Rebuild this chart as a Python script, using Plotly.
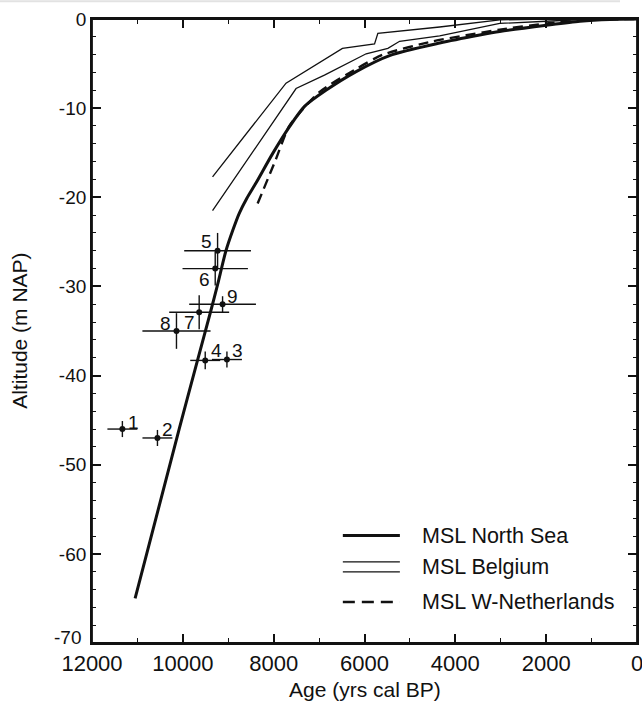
import plotly.graph_objects as go

# ---------------- data ----------------
ns_age = [11051, 10081, 9677, 9382, 9235, 9051, 8900, 8758, 8590, 8390, 8023, 7655, 7320, 6850, 6184, 5448, 4345, 3463, 3022, 1993, 1257, 600, 0]
ns_alt = [-65.0, -46.0, -38.3, -32.7, -29.8, -26.0, -23.7, -21.8, -20.1, -18.4, -15.1, -12.1, -9.8, -8.0, -5.9, -4.1, -2.7, -1.8, -1.4, -0.7, -0.25, -0.05, 0.0]

be_up_age = [9346, 7728, 6486, 5779, 5706, 4345, 3022, 2000, 1478, 1330, 0]
be_up_alt = [-17.7, -7.2, -3.3, -2.8, -1.6, -0.9, -0.1, 0.0, 0.25, 0.0, 0.0]

be_lo_age = [9346, 7507, 6882, 5963, 5485, 5227, 4345, 3022, 2000, 1000, 0]
be_lo_alt = [-21.5, -7.8, -6.3, -3.9, -3.3, -2.5, -1.9, -0.5, -0.25, 0.0, 0.0]

wn_age = [8353, 7956, 7655, 6993, 6184, 5596, 4493, 3022, 2000, 1000, 0]
wn_alt = [-20.7, -15.8, -12.0, -8.2, -5.6, -4.0, -2.5, -1.2, -0.5, -0.1, 0.0]

pt_label = ["1", "2", "3", "4", "5", "6", "7", "8", "9"]
pt_age = [11331, 10559, 9029, 9507, 9235, 9287, 9640, 10140, 9125]
pt_alt = [-46.0, -47.0, -38.2, -38.3, -26.0, -28.0, -32.9, -35.0, -32.0]
pt_age_err = [330, 330, 330, 330, 735, 720, 660, 750, 735]
pt_alt_err = [0.9, 0.9, 0.9, 1.0, 2.0, 1.9, 1.9, 2.0, 0.9]

x_ticks = [12000, 10000, 8000, 6000, 4000, 2000, 0]
y_ticks = [0, -10, -20, -30, -40, -50, -60, -70]

x_title = "Age (yrs cal BP)"
y_title = "Altitude (m NAP)"
legend_names = ["MSL North Sea", "MSL Belgium", "MSL W-Netherlands"]

# label offsets (px) relative to the point  (styling)
label_shift = [(11, 7), (10, 8), (11, 9), (11, 10), (-11, 9), (-11, -11), (-10, -10), (-11, 8), (10, 8)]

INK = "#111111"
FONT = "Liberation Sans, Arial, Helvetica, sans-serif"

fig = go.Figure()

fig.add_trace(go.Scatter(x=be_up_age, y=be_up_alt, mode="lines",
                         line=dict(color=INK, width=1.3), showlegend=False))
fig.add_trace(go.Scatter(x=be_lo_age, y=be_lo_alt, mode="lines",
                         line=dict(color=INK, width=1.3), showlegend=False))
fig.add_trace(go.Scatter(x=wn_age, y=wn_alt, mode="lines",
                         line=dict(color=INK, width=2.4, dash="10px,6px", shape="spline", smoothing=0.6),
                         showlegend=False))
fig.add_trace(go.Scatter(x=ns_age, y=ns_alt, mode="lines",
                         line=dict(color=INK, width=3, shape="spline", smoothing=0.7), showlegend=False))

fig.add_trace(go.Scatter(
    x=pt_age, y=pt_alt, mode="markers",
    marker=dict(color=INK, size=6),
    error_x=dict(type="data", array=pt_age_err, color=INK, thickness=1.4, width=0),
    error_y=dict(type="data", array=pt_alt_err, color=INK, thickness=1.4, width=0),
    showlegend=False))

# invisible trace to carry the mirrored (top/right) tick axes
fig.add_trace(go.Scatter(x=[ns_age[0]], y=[ns_alt[0]], xaxis="x2", yaxis="y2", mode="markers",
                         marker=dict(opacity=0), hoverinfo="skip", showlegend=False))

for lab, a, h, (dx, dy) in zip(pt_label, pt_age, pt_alt, label_shift):
    fig.add_annotation(x=a, y=h, text=lab, showarrow=False, xshift=dx, yshift=dy,
                       font=dict(family=FONT, size=19, color=INK))

# ---------------- manual legend (paper coords) ----------------
L, R, B, T = 92.3, 637.0, 643.0, 18.8
def px(xp):
    return (xp - L) / (R - L)
def py(yp):
    return (B - yp) / (B - T)

x0, x1, xt = 343, 400, 420
rows = [535.5, 566.8, 602]
fig.add_shape(type="line", xref="paper", yref="paper", x0=px(x0), x1=px(x1), y0=py(rows[0]), y1=py(rows[0]),
              line=dict(color=INK, width=3))
for yy in (rows[1] - 5, rows[1] + 5):
    fig.add_shape(type="line", xref="paper", yref="paper", x0=px(x0), x1=px(x1), y0=py(yy), y1=py(yy),
                  line=dict(color=INK, width=1.3))
fig.add_shape(type="line", xref="paper", yref="paper", x0=px(x0), x1=px(x1), y0=py(rows[2]), y1=py(rows[2]),
              line=dict(color=INK, width=2.4, dash="12px,7px"))
for name, yy in zip(legend_names, rows):
    fig.add_annotation(xref="paper", yref="paper", x=px(xt), y=py(yy), text=name, showarrow=False,
                       xanchor="left", yanchor="middle", font=dict(family=FONT, size=21.5, color=INK))

# axis titles
fig.add_annotation(xref="paper", yref="paper", x=px(19), y=py(331), text=y_title, textangle=-90,
                   showarrow=False, xanchor="center", yanchor="middle",
                   font=dict(family=FONT, size=21, color=INK))
fig.add_annotation(xref="paper", yref="paper", x=px(365), y=py(690), text=x_title,
                   showarrow=False, xanchor="center", yanchor="middle",
                   font=dict(family=FONT, size=21, color=INK))

# bottom y tick label sits slightly raised above the x labels
fig.add_annotation(xref="paper", yref="paper", x=px(83), y=py(637), text=str(y_ticks[-1]),
                   showarrow=False, xanchor="right", yanchor="middle",
                   font=dict(family=FONT, size=19, color=INK))

# plot frame
fig.add_shape(type="rect", xref="paper", yref="paper", x0=0, x1=1, y0=0, y1=1,
              line=dict(color=INK, width=1.8), layer="above")

# faint scan line at the very top
fig.add_shape(type="line", xref="paper", yref="paper", x0=px(0), x1=px(620), y0=py(1), y1=py(1),
              line=dict(color="#e2e2e2", width=2))

common = dict(ticks="inside", ticklen=9, tickwidth=1.5, tickcolor=INK,
              showline=True, linecolor=INK, linewidth=1.8,
              showgrid=False, zeroline=False, automargin=False)

fig.update_layout(
    width=642, height=705,
    margin=dict(l=92, r=5, t=19, b=62, pad=0),
    paper_bgcolor="white", plot_bgcolor="white",
    showlegend=False,
    xaxis=dict(range=[12000, 0], tickvals=x_ticks, ticktext=[str(v) for v in x_ticks],
               ticklabeloverflow="allow",
               minor=dict(dtick=1000, ticks="inside", ticklen=5, tickwidth=1.3, tickcolor=INK),
               tickfont=dict(family=FONT, size=22, color=INK), **common),
    yaxis=dict(range=[-70, 0], tickvals=y_ticks,
               ticktext=[str(v) for v in y_ticks[:-1]] + [""],
               ticklabeloverflow="allow",
               minor=dict(dtick=2, ticks="inside", ticklen=4, tickwidth=1.3, tickcolor=INK),
               tickfont=dict(family=FONT, size=19, color=INK), **common),
    xaxis2=dict(range=[12000, 0], tickvals=x_ticks, showticklabels=False, overlaying="x", side="top",
                anchor="y2",
                minor=dict(dtick=1000, ticks="inside", ticklen=5, tickwidth=1.3, tickcolor=INK), **common),
    yaxis2=dict(range=[-70, 0], tickvals=y_ticks, showticklabels=False, overlaying="y", side="right",
                anchor="x2",
                minor=dict(dtick=2, ticks="inside", ticklen=4, tickwidth=1.3, tickcolor=INK), **common),
)

fig.write_html("out.html")
